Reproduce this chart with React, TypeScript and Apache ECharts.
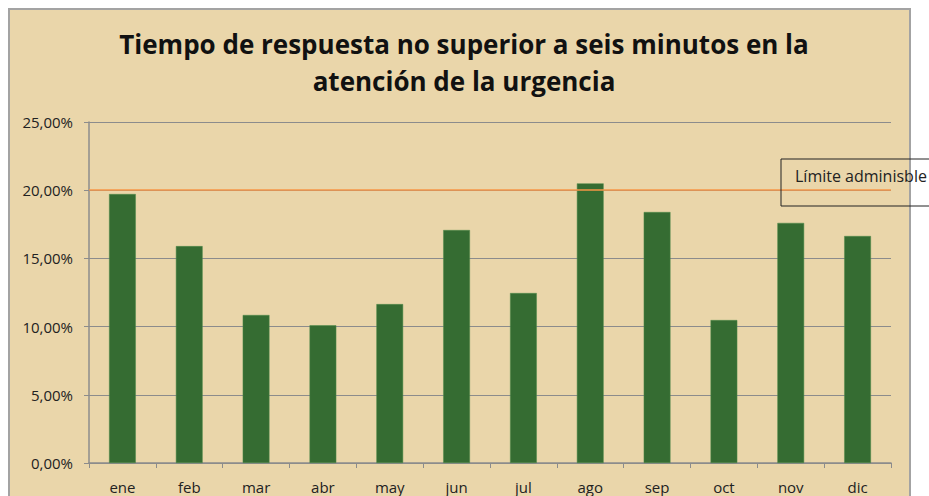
import React, { useEffect, useRef } from "react";
import * as echarts from "echarts";

const months = ["ene", "feb", "mar", "abr", "may", "jun", "jul", "ago", "sep", "oct", "nov", "dic"];
const tiempos = [0.1972, 0.159, 0.1085, 0.101, 0.1165, 0.1708, 0.1246, 0.205, 0.184, 0.1048, 0.176, 0.1664];
const limite = 0.2;
const limiteLabel = "Límite adminisble";
const titleText = "Tiempo de respuesta no superior a seis minutos en la\natención de la urgencia";

export default function App() {
  const ref = useRef<HTMLDivElement>(null);
  useEffect(() => {
    const chart = echarts.init(ref.current!, null, { renderer: "svg" });
    const font = "'Open Sans', Lato, sans-serif";
    chart.setOption({
      animation: false,
      backgroundColor: "#ffffff",
      title: {
        text: titleText,
        left: 459,
        textAlign: "center",
        top: 20,
        textStyle: { fontFamily: font, fontSize: 26, fontWeight: "bold", color: "#111", lineHeight: 37 },
      },
      grid: { left: 89, right: 38, top: 122, bottom: 33 },
      xAxis: {
        type: "category",
        data: months,
        axisLine: { lineStyle: { color: "#8c8c8c", width: 1.5 } },
        axisTick: { show: true, length: 5, lineStyle: { color: "#8c8c8c" } },
        axisLabel: { color: "#222", fontFamily: font, fontSize: 15, margin: 16 },
      },
      yAxis: {
        type: "value",
        min: 0,
        max: 0.25,
        interval: 0.05,
        axisLine: { show: true, lineStyle: { color: "#8c8c8c", width: 1.5 } },
        axisTick: { show: true, length: 5, lineStyle: { color: "#8c8c8c" } },
        splitLine: { lineStyle: { color: "#8c8c8c", width: 1 } },
        axisLabel: {
          color: "#222",
          fontFamily: font,
          fontSize: 15,
          margin: 16,
          formatter: (v: number) => (v * 100).toFixed(2).replace(".", ",") + "%",
        },
      },
      graphic: [
        {
          type: "rect",
          z: -10,
          silent: true,
          shape: { x: 9, y: 9, width: 901, height: 500 },
          style: { fill: "#EAD6AA", stroke: "#a3a3a3", lineWidth: 2 },
        },
        {
          type: "rect",
          z: 100,
          shape: { x: 781, y: 159, width: 160, height: 47 },
          style: { fill: "transparent", stroke: "#222", lineWidth: 1 },
        },
        {
          type: "text",
          z: 101,
          x: 795,
          y: 168,
          style: { text: limiteLabel, fontFamily: font, fontSize: 16, fill: "#222" },
        },
      ],
      series: [
        {
          type: "bar",
          data: tiempos,
          barWidth: "40%",
          itemStyle: { color: "#356C32", borderColor: "#4f8a4a", borderWidth: 0.5 },
          markLine: {
            silent: true,
            symbol: "none",
            label: { show: false },
            lineStyle: { color: "#F79646", width: 1.5, type: "solid" },
            data: [{ yAxis: limite }],
          },
        },
      ],
    });
    return () => chart.dispose();
  }, []);
  return <div ref={ref} style={{ position: "fixed", left: 0, top: 0, width: 929, height: 496 }} />;
}
